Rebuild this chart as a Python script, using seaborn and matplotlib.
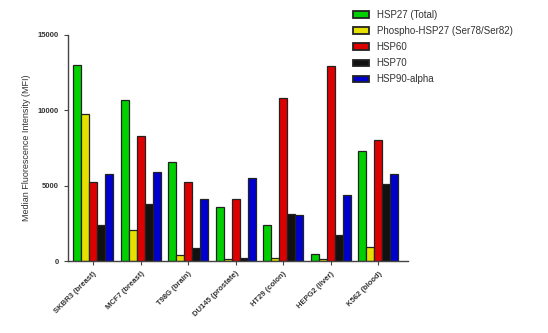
import pandas as pd
import numpy as np
import matplotlib
matplotlib.use('Agg')
import matplotlib.pyplot as plt
import seaborn as sns

# cell lines and the five markers (MFI values)
cell_lines = ['SKBR3 (breast)', 'MCF7 (breast)', 'T98G (brain)', 'DU145 (prostate)',
              'HT29 (colon)', 'HEPG2 (liver)', 'K562 (blood)']
markers = ['HSP27 (Total)', 'Phospho-HSP27 (Ser78/Ser82)', 'HSP60', 'HSP70', 'HSP90-alpha']
hsp27_total = [13000, 10700, 6600, 3600, 2400, 450, 7300]
phospho_hsp27 = [9750, 2050, 400, 150, 200, 150, 950]
hsp60 = [5250, 8300, 5250, 4100, 10800, 12950, 8050]
hsp70 = [2400, 3800, 850, 200, 3100, 1700, 5100]
hsp90_alpha = [5800, 5900, 4100, 5500, 3050, 4400, 5800]
colors = ['#00d000', '#e6e000', '#dd0000', '#111111', '#0000cc']

series = [hsp27_total, phospho_hsp27, hsp60, hsp70, hsp90_alpha]
df = pd.DataFrame([(c, m, v) for m, vals in zip(markers, series) for c, v in zip(cell_lines, vals)],
                  columns=['cell_line', 'marker', 'mfi'])

sns.set_style('white')
plt.rcParams['font.family'] = ['Liberation Sans', 'DejaVu Sans']

fig = plt.figure(figsize=(5.48, 3.33), dpi=100)
ax = fig.add_axes([0.124, 0.216, 0.621, 0.679])
sns.barplot(data=df, x='cell_line', y='mfi', hue='marker', hue_order=markers,
            palette=colors, width=0.84, edgecolor='#222222', linewidth=0.9,
            saturation=1, ax=ax, legend=True)

ax.set_ylim(0, 15000)
ax.set_xlim(-0.53, 6.63)
ax.set_yticks([0, 5000, 10000, 15000])
ax.set_xlabel('')
ax.set_ylabel('Median Fluorescence Intensity (MFI)', fontsize=6.5, color='#333333', labelpad=5)
ax.tick_params(axis='both', length=3, width=0.8, color='#444444', labelsize=5.5,
               labelcolor='#333333', direction='out', bottom=True, left=True)
for lab in ax.get_xticklabels():
    lab.set_rotation(45)
    lab.set_ha('right')
    lab.set_rotation_mode('anchor')
    lab.set_fontweight('bold')
for lab in ax.get_yticklabels():
    lab.set_fontweight('bold')
sns.despine(ax=ax)
for side in ['left', 'bottom']:
    ax.spines[side].set_color('#444444')
    ax.spines[side].set_linewidth(1.0)

handles, labels = ax.get_legend_handles_labels()
for h in handles:
    h.set_linewidth(1.3)
ax.get_legend().remove()
fig.legend(handles, labels, loc='upper left', bbox_to_anchor=(0.628, 0.996), frameon=False,
           fontsize=7, handlelength=1.65, handleheight=0.65, labelspacing=0.62,
           handletextpad=0.8, labelcolor='#333333')

fig.savefig('out.png', dpi=100)
